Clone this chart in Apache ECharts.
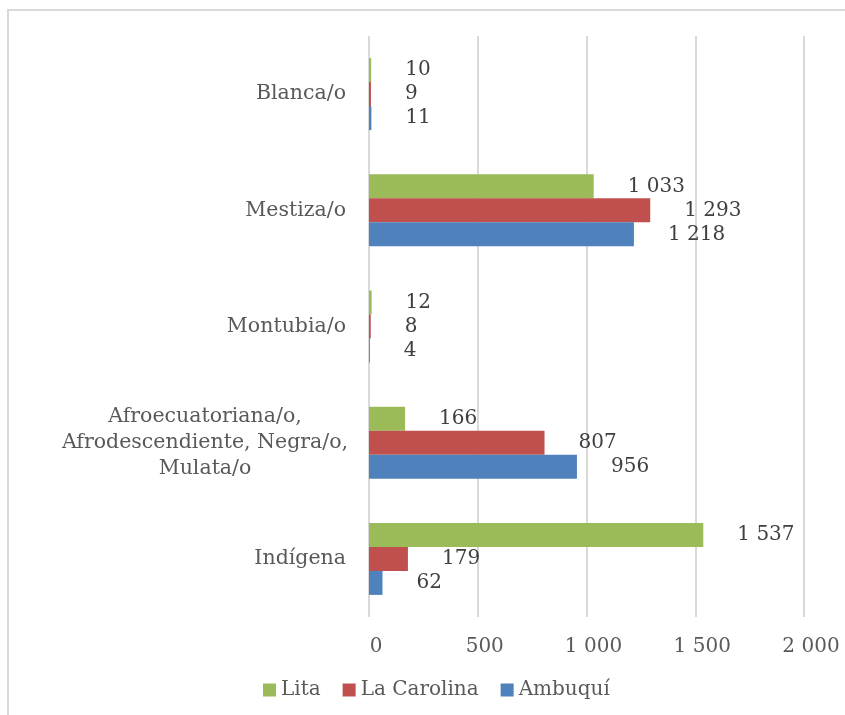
<!DOCTYPE html>
<html>
<head>
<meta charset="utf-8">
<script src="https://cdn.jsdelivr.net/npm/echarts@6/dist/echarts.min.js"></script>
<style>
  html, body { margin: 0; padding: 0; background: #fff; }
  .frame {
    position: absolute; left: 7px; top: 9px; width: 860px; height: 720px;
    border: 2px solid #d9d9d9; background: #fff;
  }
  #chart { position: absolute; left: 0; top: 0; width: 845px; height: 715px; }
</style>
</head>
<body>
<div class="frame"></div>
<div id="chart"></div>
<script>
  // categories bottom -> top (echarts y category axis starts at the bottom)
  var categories = ['Indígena', 'Afroecuatoriana/o,\nAfrodescendiente, Negra/o,\nMulata/o', 'Montubia/o', 'Mestiza/o', 'Blanca/o'];
  var lita = [1537, 166, 12, 1033, 10];
  var laCarolina = [179, 807, 8, 1293, 9];
  var ambuqui = [62, 956, 4, 1218, 11];

  var fmt = function (v) {
    return String(v).replace(/\B(?=(\d{3})+(?!\d))/g, ' ');
  };
  var font = 'DejaVu Serif';

  // multi-line category label is centred like in the original
  var yData = categories.map(function (c) {
    if (c.indexOf('\n') < 0) return c;
    return { value: c, textStyle: { align: 'center', padding: [0, 282, 0, 0] } };
  });

  var labelCfg = {
    show: true,
    position: 'right',
    distance: 34,
    color: '#404040',
    fontFamily: font,
    fontSize: 20,
    formatter: function (p) { return fmt(p.value); }
  };

  var myEchart = echarts.init(document.getElementById('chart'));
  var option = {
    animation: false,
    color: ['#9bbb59', '#c0504d', '#4f81bd'],
    legend: {
      data: ['Lita', 'La Carolina', 'Ambuquí'],
      icon: 'rect',
      itemWidth: 13,
      itemHeight: 13,
      itemGap: 22,
      left: 258,
      top: 675,
      textStyle: { color: '#595959', fontFamily: font, fontSize: 20 }
    },
    grid: {
      left: 369,
      right: 41,
      top: 36,
      bottom: 98
    },
    xAxis: {
      type: 'value',
      min: 0,
      max: 2000,
      interval: 500,
      axisLine: { show: false },
      axisTick: { show: false },
      splitLine: { lineStyle: { color: '#d9d9d9', width: 2 } },
      axisLabel: {
        margin: 20,
        padding: [0, 0, 0, 14],
        color: '#595959',
        fontFamily: font,
        fontSize: 20,
        formatter: function (v) { return fmt(v); }
      }
    },
    yAxis: {
      type: 'category',
      data: yData,
      axisLine: { show: false },
      axisTick: { show: false },
      axisLabel: {
        margin: 23,
        color: '#595959',
        fontFamily: font,
        fontSize: 20.5,
        lineHeight: 26
      }
    },
    series: [{
      name: 'Lita',
      type: 'bar',
      data: lita,
      barWidth: 24,
      barGap: '0%',
      label: labelCfg
    }, {
      name: 'La Carolina',
      type: 'bar',
      data: laCarolina,
      barWidth: 24,
      barGap: '0%',
      label: labelCfg
    }, {
      name: 'Ambuquí',
      type: 'bar',
      data: ambuqui,
      barWidth: 24,
      barGap: '0%',
      label: labelCfg
    }]
  };
  myEchart.setOption(option);
</script>
</body>
</html>
